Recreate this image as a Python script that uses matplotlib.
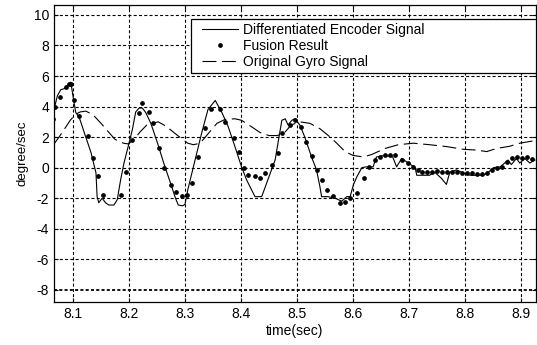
import matplotlib
matplotlib.use("Agg")
import numpy as np
import matplotlib.pyplot as plt
from matplotlib.lines import Line2D
from matplotlib.legend_handler import HandlerLine2D

plt.rcParams['font.family'] = ['Liberation Sans', 'DejaVu Sans']
plt.rcParams['axes.unicode_minus'] = False
plt.rcParams['lines.scale_dashes'] = False

# Differentiated encoder signal (solid)
enc_t = [8.066, 8.072, 8.078, 8.087, 8.093, 8.096, 8.102, 8.105, 8.111, 8.120,
         8.132, 8.141, 8.143, 8.146, 8.152, 8.158, 8.164, 8.173, 8.179, 8.185,
         8.191, 8.200, 8.206, 8.212, 8.218, 8.224, 8.230, 8.239, 8.251, 8.262,
         8.274, 8.283, 8.288, 8.296, 8.300, 8.305, 8.318, 8.330, 8.341, 8.354,
         8.366, 8.377, 8.389, 8.401, 8.410, 8.425, 8.437, 8.448, 8.461, 8.473,
         8.479, 8.484, 8.491, 8.496, 8.505, 8.514, 8.526, 8.535, 8.541, 8.544,
         8.555, 8.568, 8.580, 8.589, 8.595, 8.601, 8.607, 8.616, 8.624, 8.636,
         8.642, 8.657, 8.671, 8.678, 8.687, 8.699, 8.711, 8.714, 8.725, 8.737,
         8.746, 8.758, 8.767, 8.773, 8.785, 8.797, 8.809, 8.821, 8.833, 8.842,
         8.851, 8.863, 8.871, 8.877, 8.883, 8.892, 8.898, 8.907, 8.916, 8.925]
enc_v = [3.8, 4.7, 5.1, 5.2, 5.5, 5.6, 4.2, 3.6, 3.3, 2.3,
         1.0, -0.35, -1.9, -2.3, -2.0, -2.3, -2.45, -2.45, -2.1, -0.8,
         0.3, 1.6, 2.5, 3.65, 3.9, 3.9, 3.6, 2.9, 1.6, 0.3,
         -1.0, -2.0, -2.45, -2.5, -2.4, -1.45, 0.5, 2.3, 3.8, 4.4,
         3.6, 2.7, 1.4, 0.05, -0.8, -1.9, -1.9, -0.8, 0.5, 3.1,
         3.2, 2.8, 3.1, 3.2, 2.8, 2.0, 0.7, -0.15, -1.25, -1.9,
         -1.9, -2.0, -2.2, -1.9, -1.9, -1.1, -0.6, 0.0, 0.05, 0.05,
         0.7, 0.8, 0.7, 0.05, 0.6, 0.3, 0.0, -0.5, -0.5, -0.5,
         -0.3, -0.7, -1.1, -0.3, -0.15, -0.35, -0.5, -0.5, -0.5, -0.3,
         0.0, 0.05, 0.3, 0.5, 0.2, 0.6, 0.3, 0.6, 0.3, 0.5]

# Fusion result (dots)
fus_t = [8.065, 8.067, 8.076, 8.087, 8.093, 8.097, 8.102, 8.111, 8.126, 8.136,
         8.145, 8.154, 8.185, 8.194, 8.205, 8.217, 8.224, 8.236, 8.242, 8.254,
         8.263, 8.275, 8.284, 8.294, 8.304, 8.313, 8.324, 8.336, 8.347, 8.363,
         8.372, 8.387, 8.396, 8.405, 8.413, 8.425, 8.434, 8.443, 8.455, 8.467,
         8.473, 8.488, 8.496, 8.508, 8.517, 8.526, 8.535, 8.544, 8.553, 8.565,
         8.577, 8.586, 8.595, 8.607, 8.619, 8.628, 8.640, 8.649, 8.658, 8.667,
         8.676, 8.687, 8.699, 8.708, 8.717, 8.723, 8.732, 8.741, 8.750, 8.759,
         8.768, 8.777, 8.785, 8.794, 8.803, 8.812, 8.821, 8.830, 8.839, 8.848,
         8.857, 8.866, 8.875, 8.884, 8.893, 8.902, 8.911, 8.919]
fus_v = [3.2, 4.0, 4.65, 5.3, 5.5, 5.5, 4.45, 3.35, 2.04, 0.62,
         -0.54, -1.78, -1.78, -0.31, 1.82, 3.57, 4.22, 3.67, 2.93, 1.27,
         -0.02, -1.13, -1.57, -1.89, -1.78, -1.0, 0.72, 2.58, 3.83, 3.83,
         3.02, 1.93, 1.05, -0.04, -0.47, -0.58, -0.69, -0.36, 0.18, 0.95,
         2.26, 2.8, 3.13, 2.69, 1.71, 0.73, -0.14, -0.8, -1.45, -1.89,
         -2.32, -2.22, -2.0, -1.67, -0.69, 0.07, 0.5, 0.72, 0.83, 0.83,
         0.83, 0.5, 0.29, 0.07, -0.15, -0.26, -0.26, -0.26, -0.2, -0.26,
         -0.26, -0.26, -0.31, -0.36, -0.36, -0.36, -0.4, -0.4, -0.36, -0.14,
         -0.04, 0.07, 0.4, 0.62, 0.72, 0.62, 0.72, 0.55]

# Original gyro signal (dashed)
gyr_t = [8.065, 8.075, 8.086, 8.095, 8.105, 8.113, 8.123, 8.136, 8.150, 8.163,
         8.175, 8.190, 8.199, 8.210, 8.220, 8.232, 8.252, 8.267, 8.280, 8.294,
         8.305, 8.315, 8.327, 8.342, 8.357, 8.371, 8.389, 8.401, 8.422, 8.434,
         8.450, 8.465, 8.478, 8.490, 8.505, 8.523, 8.541, 8.556, 8.571, 8.586,
         8.600, 8.618, 8.633, 8.657, 8.681, 8.708, 8.737, 8.767, 8.797, 8.821,
         8.839, 8.856, 8.880, 8.898, 8.922]
gyr_v = [1.5, 2.0, 2.6, 3.1, 3.5, 3.65, 3.7, 3.45, 2.9, 2.35,
         1.85, 1.6, 1.55, 1.9, 2.35, 2.8, 3.0, 2.7, 2.3, 1.9,
         1.6, 1.5, 1.6, 2.25, 2.9, 3.15, 3.2, 3.1, 2.6, 2.3,
         2.1, 2.1, 2.3, 2.8, 3.0, 2.9, 2.55, 2.1, 1.6, 1.05,
         0.8, 0.7, 0.85, 1.25, 1.5, 1.6, 1.5, 1.38, 1.2, 1.15,
         1.05, 1.25, 1.4, 1.6, 1.75]

x_ticks = [8.1, 8.2, 8.3, 8.4, 8.5, 8.6, 8.7, 8.8, 8.9]
y_ticks = [-8, -6, -4, -2, 0, 2, 4, 6, 8, 10]
legend_labels = ["Differentiated Encoder Signal", "Fusion Result", "Original Gyro Signal"]


class ShiftedHandler(HandlerLine2D):
    """Line handle drawn slightly indented from the legend's left border."""
    def get_xdata(self, legend, xdescent, ydescent, width, height, fontsize):
        xd, xm = super().get_xdata(legend, xdescent, ydescent, width, height, fontsize)
        xd = np.asarray(xd, dtype=float).copy()
        xd[0] = xd[0] + 0.17 * width
        xm = np.asarray(xm, dtype=float).copy() + 0.085 * width
        return xd, xm


fig = plt.figure(figsize=(5.37, 3.45), dpi=100)
ax = fig.add_axes([54/537, 1 - 302/345, (536 - 54)/537, (302 - 5)/345])

ax.plot(enc_t, enc_v, color='black', lw=0.8)
ax.plot(fus_t, fus_v, linestyle='none', marker='o', ms=2.4, color='black')
ax.plot(gyr_t, gyr_v, color='black', lw=0.8, linestyle=(0, (10, 4)))

ax.set_xlim(8.066, 8.927)
ax.set_ylim(-8.8, 10.65)
ax.set_xticks(x_ticks)
ax.set_xticklabels([f"{v:.1f}" for v in x_ticks])
ax.set_yticks(y_ticks)
ax.set_yticklabels([str(v) for v in y_ticks])
ax.tick_params(direction='in', length=3, width=0.8, top=True, right=True,
               labelsize=10, colors='black', pad=3.5)
ax.grid(True, color='black', lw=0.8, linestyle=(0, (2.2, 1.6)))
ax.get_ygridlines()[0].set_linewidth(1.3)
for s in ax.spines.values():
    s.set_linewidth(0.9)
    s.set_color('black')

ax.set_xlabel("time(sec)", fontsize=10, labelpad=2)
ax.set_ylabel("degree/sec", fontsize=9.5, labelpad=4)

handles = [Line2D([], [], color='black', lw=0.8),
           Line2D([], [], linestyle='none', marker='o', ms=2.4, color='black'),
           Line2D([], [], color='black', lw=0.8, linestyle=(0, (10, 4)))]
hm = {h: ShiftedHandler() for h in handles}
leg = ax.legend(handles, legend_labels, loc='upper left', handler_map=hm,
                bbox_to_anchor=(0.2836, 0.853, 0.7164, 0.1), mode='expand',
                fontsize=10, frameon=True, fancybox=False, borderaxespad=0,
                handlelength=3.1, handletextpad=0.35, labelspacing=0.15,
                borderpad=0.3, framealpha=1)
leg.get_frame().set_edgecolor('black')
leg.get_frame().set_linewidth(0.9)

fig.savefig("out.png", dpi=100)
